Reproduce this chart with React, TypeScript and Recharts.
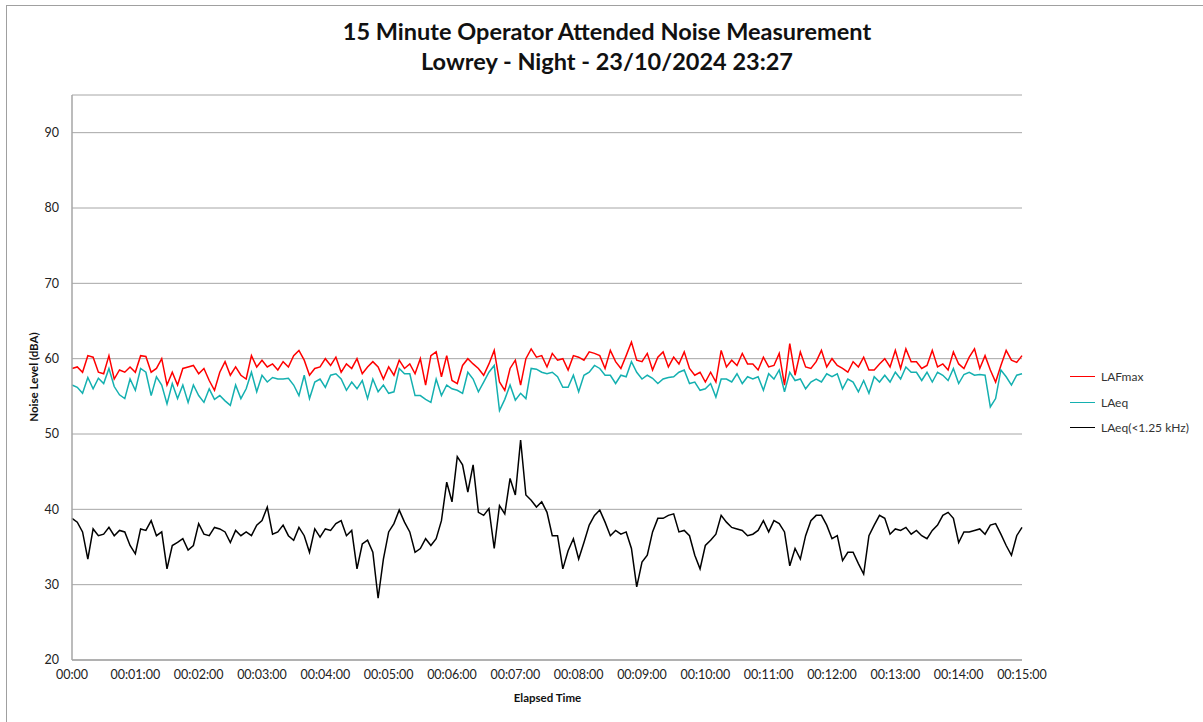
import { CartesianGrid, Legend, Line, LineChart, XAxis, YAxis } from "recharts";

// one reading every 5 s over the 15 minute measurement
const STEP_SECONDS = 5;

const lafmax = [
  58.7, 58.9, 58.2, 60.4, 60.2, 58.2, 58.0, 60.4, 57.3, 58.5,
  58.2, 58.9, 58.2, 60.4, 60.3, 58.2, 58.7, 60.0, 56.5, 58.2,
  56.5, 58.7, 58.9, 59.1, 58.0, 58.7, 57.1, 55.8, 58.2, 59.6,
  57.8, 58.9, 57.8, 57.3, 60.4, 58.9, 59.8, 58.9, 59.3, 58.5,
  59.6, 58.9, 60.4, 61.1, 59.8, 57.8, 58.7,
  58.9, 60.0, 59.1, 60.2, 58.2, 59.3, 58.7, 60.0, 58.0, 58.9,
  59.6, 58.9, 57.3, 58.9, 57.8, 59.8, 58.7, 59.3, 58.0, 60.0,
  56.5, 60.4, 60.9, 57.6, 60.4, 57.1, 56.7, 59.1, 60.0, 59.3,
  58.7, 57.8, 59.3, 61.1, 56.9, 55.8, 58.7, 59.8, 56.5, 60.0,
  61.3, 60.2, 60.4, 58.9, 60.7, 59.8, 60.0,
  58.5, 60.4, 60.2, 59.8, 60.9, 60.7, 60.4, 58.7, 61.1, 59.6,
  58.7, 60.4, 62.2, 59.8, 59.6, 60.7, 58.5, 60.2, 60.9, 58.9,
  60.2, 59.3, 60.9, 58.7, 57.8, 58.2, 56.9, 58.2, 56.9, 61.1,
  58.9, 59.8, 59.1, 60.7, 59.3, 59.3, 58.5, 60.2, 58.9, 59.1,
  60.7, 56.5, 62.0, 57.8, 60.9, 58.9,
  58.7, 59.6, 61.1, 58.9, 60.0, 59.1, 58.7, 58.2, 59.6, 58.9,
  60.2, 58.5, 58.5, 59.3, 60.0, 58.9, 61.1, 58.7, 61.3, 59.6,
  59.6, 58.7, 59.1, 61.1, 58.9, 59.3, 58.5, 60.9, 59.3, 58.7,
  60.2, 61.3, 58.7, 60.4, 58.5, 56.9, 59.1, 61.1, 59.8, 59.5,
  60.4,
];

const laeq = [
  56.5, 56.2, 55.4, 57.5, 56.0, 57.4, 56.7, 58.7, 56.3, 55.2,
  54.7, 57.3, 55.8, 58.7, 58.2, 55.1, 57.6, 56.5, 54.0, 56.7,
  54.7, 56.5, 54.2, 56.5, 55.1, 54.2, 56.0, 54.6, 55.1, 54.4,
  53.8, 56.5, 54.7, 56.0, 58.2, 55.6, 57.8, 56.9, 57.5, 57.3,
  57.3, 57.4, 56.5, 55.1, 57.8, 54.7, 56.9,
  57.3, 56.2, 57.8, 58.0, 57.3, 55.8, 56.9, 56.0, 57.1, 54.7,
  57.3, 55.6, 56.5, 55.4, 55.6, 58.7, 58.0, 58.0, 55.1, 55.1,
  54.6, 54.2, 57.3, 55.1, 56.5, 56.0, 55.8, 55.4, 58.2, 57.3,
  55.6, 56.9, 58.2, 59.1, 53.1, 54.6, 56.5, 54.5, 55.4, 54.7,
  58.7, 58.6, 58.2, 58.0, 58.2, 57.6, 56.2,
  56.2, 57.8, 55.6, 57.8, 58.2, 59.1, 58.7, 57.8, 57.8, 56.7,
  57.8, 57.6, 59.6, 58.2, 57.3, 57.8, 57.4, 56.7, 57.3, 57.5,
  57.6, 58.2, 58.5, 56.7, 56.9, 55.8, 56.0, 56.7, 54.9, 57.3,
  57.3, 56.9, 58.0, 56.7, 57.6, 57.3, 57.6, 55.8, 58.0, 57.3,
  58.5, 55.6, 58.2, 57.1, 57.3, 56.0,
  56.9, 57.3, 56.9, 58.0, 57.6, 58.0, 56.0, 57.3, 56.9, 55.6,
  57.1, 55.4, 57.6, 56.9, 57.8, 56.9, 58.2, 57.3, 58.9, 58.2,
  58.2, 57.1, 58.2, 56.9, 58.2, 57.8, 57.1, 58.7, 56.7, 57.9,
  58.2, 57.8, 57.9, 57.8, 53.6, 54.7, 58.5, 57.6, 56.5, 57.8,
  58.0,
];

const laeqLow = [
  38.8, 38.3, 37.0, 33.4, 37.4, 36.5, 36.7, 37.6, 36.5, 37.2,
  37.0, 35.2, 34.1, 37.4, 37.2, 38.5, 36.5, 37.0, 32.1, 35.2,
  35.6, 36.1, 34.6, 35.2, 38.1, 36.7, 36.5, 37.6, 37.4, 37.0,
  35.6, 37.2, 36.5, 37.0, 36.5, 37.9, 38.5, 40.3, 36.7, 37.0,
  37.9, 36.5, 35.9, 37.6, 36.5, 34.3, 37.4,
  36.3, 37.4, 37.2, 38.1, 38.5, 36.5, 37.2, 32.1, 35.4, 35.9,
  34.3, 28.2, 33.4, 37.0, 38.1, 39.9, 38.3, 37.0, 34.3, 34.8,
  36.1, 35.2, 36.1, 38.5, 43.6, 41.0, 47.0, 45.9, 42.3, 45.9,
  39.6, 39.2, 40.1, 34.8, 40.5, 39.4, 44.1, 41.9, 49.2, 41.9,
  41.2, 40.3, 41.0, 39.6, 36.5, 36.5, 32.1,
  34.5, 36.1, 33.4, 35.6, 37.9, 39.2, 39.9, 38.3, 36.5, 37.2,
  36.7, 37.0, 34.8, 29.7, 33.0, 33.9, 37.0, 38.8, 38.8, 39.2,
  39.4, 37.0, 37.2, 36.5, 33.9, 32.1, 35.2, 35.9, 36.7, 39.2,
  38.3, 37.6, 37.4, 37.2, 36.5, 36.7, 37.2, 38.5, 37.0, 38.5,
  38.1, 37.0, 32.5, 34.8, 33.4, 36.5,
  38.5, 39.2, 39.2, 37.9, 36.1, 36.5, 33.2, 34.3, 34.3, 32.8,
  31.4, 36.5, 37.9, 39.2, 38.8, 36.7, 37.4, 37.2, 37.6, 36.7,
  37.2, 36.5, 36.1, 37.2, 37.9, 39.2, 39.6, 38.8, 35.6, 37.0,
  37.0, 37.2, 37.4, 36.7, 37.9, 38.1, 36.7, 35.2, 33.9, 36.5,
  37.6,
];

const xTicks = [0, 60, 120, 180, 240, 300, 360, 420, 480, 540, 600, 660, 720, 780, 840, 900];
const xTickLabels = [
  "00:00", "00:01:00", "00:02:00", "00:03:00", "00:04:00", "00:05:00", "00:06:00", "00:07:00",
  "00:08:00", "00:09:00", "00:10:00", "00:11:00", "00:12:00", "00:13:00", "00:14:00", "00:15:00",
];
const yTicks = [20, 30, 40, 50, 60, 70, 80, 90];

const seriesNames = ["LAFmax", "LAeq", "LAeq(<1.25 kHz)"];
const seriesColors = ["#ff0000", "#14b0b0", "#000000"];

const data = lafmax.map((v, i) => ({
  t: i * STEP_SECONDS,
  lafmax: v,
  laeq: laeq[i],
  laeqLow: laeqLow[i],
}));

const FONT = "Lato, 'Open Sans', sans-serif";
const AXIS_GREY = "#a6a6a6";
const LEGEND_W = 140;

function LegendBox({ payload }: { payload?: { value: string; color: string }[] }) {
  return (
    <div style={{ fontFamily: FONT, fontSize: 12, color: "#333" }}>
      {(payload ?? []).map((p) => (
        <div key={p.value} style={{ display: "flex", alignItems: "center", height: 25.5 }}>
          <span style={{ width: 25, height: 0, borderTop: `1.5px solid ${p.color}`, marginRight: 6 }} />
          <span>{p.value}</span>
        </div>
      ))}
    </div>
  );
}

export default function App() {
  return (
    <div
      style={{
        position: "absolute",
        left: 0,
        top: 0,
        width: 1203,
        height: 722,
        overflow: "hidden",
        background: "#fff",
        fontFamily: FONT,
      }}
    >
      <div
        style={{
          position: "absolute",
          left: 6,
          top: 5,
          width: 1210,
          height: 730,
          border: "1px solid #a0a0a0",
        }}
      />
      <div
        style={{
          position: "absolute",
          left: 0,
          width: 1214,
          top: 16,
          textAlign: "center",
          fontWeight: 700,
          fontSize: 23.5,
          lineHeight: "30px",
          color: "#111",
        }}
      >
        <div>15 Minute Operator Attended Noise Measurement</div>
        <div>Lowrey - Night - 23/10/2024 23:27</div>
      </div>

      <LineChart
        width={1203}
        height={722}
        data={data}
        margin={{ top: 95, right: 181 - LEGEND_W, bottom: 22, left: 0 }}
      >
        <CartesianGrid vertical={false} stroke={AXIS_GREY} strokeWidth={1} />
        <XAxis
          type="number"
          dataKey="t"
          domain={[0, 900]}
          ticks={xTicks}
          interval={0}
          height={40}
          tickFormatter={(v: number) => xTickLabels[xTicks.indexOf(v)] ?? ""}
          tick={{ fontSize: 12.5, fill: "#222", fontFamily: FONT }}
          tickLine={false}
          tickSize={0}
          tickMargin={10}
          axisLine={{ stroke: AXIS_GREY, strokeWidth: 1.5 }}
        />
        <YAxis
          domain={[20, 95]}
          ticks={yTicks}
          interval={0}
          width={72}
          allowDataOverflow
          tick={{ fontSize: 12.5, fill: "#222", fontFamily: FONT }}
          tickLine={false}
          tickSize={0}
          tickMargin={13}
          axisLine={{ stroke: AXIS_GREY, strokeWidth: 1.5 }}
        />
        <Legend
          layout="vertical"
          align="right"
          verticalAlign="top"
          wrapperStyle={{ left: 1070, top: 364, width: LEGEND_W }}
          content={(props) => <LegendBox payload={props.payload as { value: string; color: string }[]} />}
        />
        <Line
          type="linear"
          dataKey="lafmax"
          name={seriesNames[0]}
          stroke={seriesColors[0]}
          strokeWidth={1.5}
          dot={false}
          isAnimationActive={false}
        />
        <Line
          type="linear"
          dataKey="laeq"
          name={seriesNames[1]}
          stroke={seriesColors[1]}
          strokeWidth={1.5}
          dot={false}
          isAnimationActive={false}
        />
        <Line
          type="linear"
          dataKey="laeqLow"
          name={seriesNames[2]}
          stroke={seriesColors[2]}
          strokeWidth={1.5}
          dot={false}
          isAnimationActive={false}
        />
      </LineChart>

      <div
        style={{
          position: "absolute",
          left: 73,
          width: 949,
          top: 691,
          textAlign: "center",
          fontWeight: 700,
          fontSize: 11.5,
          color: "#111",
        }}
      >
        Elapsed Time
      </div>
      <div
        style={{
          position: "absolute",
          left: 33,
          top: 377,
          transform: "translate(-50%, -50%) rotate(-90deg)",
          whiteSpace: "nowrap",
          fontWeight: 700,
          fontSize: 11.5,
          color: "#111",
        }}
      >
        Noise Level (dBA)
      </div>
    </div>
  );
}
